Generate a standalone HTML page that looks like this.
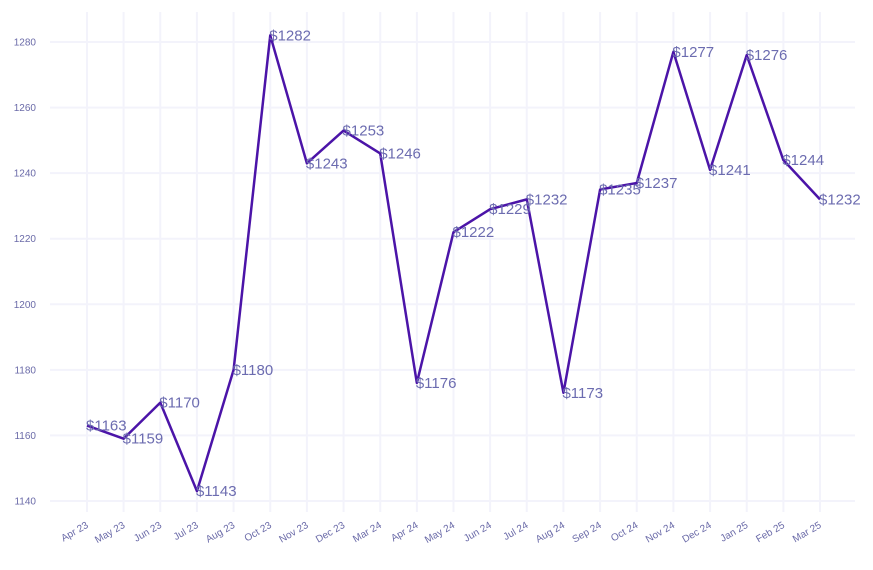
<!DOCTYPE html>
<html><head><meta charset="utf-8"><style>
body{margin:0;background:#fff;font-family:"Liberation Sans",sans-serif}
</style></head><body>
<svg id="chart" width="873" height="565" xmlns="http://www.w3.org/2000/svg">
<g id="grid"></g><g id="axes"></g><g id="series"></g><g id="labels"></g>
</svg>
<script>
const categories=["Apr 23","May 23","Jun 23","Jul 23","Aug 23","Oct 23","Nov 23","Dec 23","Mar 24","Apr 24","May 24","Jun 24","Jul 24","Aug 24","Sep 24","Oct 24","Nov 24","Dec 24","Jan 25","Feb 25","Mar 25"];
const values=[1163,1159,1170,1143,1180,1282,1243,1253,1246,1176,1222,1229,1232,1173,1235,1237,1277,1241,1276,1244,1232];
const yTicks=[1140,1160,1180,1200,1220,1240,1260,1280];
const NS="http://www.w3.org/2000/svg";
const x=i=>87+i*(820-87)/(categories.length-1);
const y=v=>501-(v-1140)*(501-42)/140;
function mk(tag,attrs,parent){const e=document.createElementNS(NS,tag);for(const k in attrs)e.setAttribute(k,attrs[k]);parent.appendChild(e);return e;}
const grid=document.getElementById('grid'),axes=document.getElementById('axes'),series=document.getElementById('series'),labels=document.getElementById('labels');
yTicks.forEach(t=>{
 const l=mk('line',{x1:50,x2:855,y1:y(t),y2:y(t),stroke:'#f3f3fb','stroke-width':2},grid);
 
 
 const tx=mk('text',{x:36,y:y(t)+3.5,'text-anchor':'end','font-size':10,fill:'#6a6aa8'},axes);
 tx.textContent=t;
 
 
});
categories.forEach((c,i)=>{
 const l=mk('line',{x1:x(i),x2:x(i),y1:12,y2:512,stroke:'#f3f3fb','stroke-width':2},grid);
 
 
 const tx=mk('text',{x:x(i)+2,y:527,'text-anchor':'end','font-size':10,fill:'#6a6aa8',transform:`rotate(-30 ${x(i)+2} 527)`},axes);
 tx.textContent=c;
 
 
});
const p=mk('polyline',{points:values.map((v,i)=>x(i)+','+y(v)).join(' '),fill:'none',stroke:'#4b14a8','stroke-width':2.5,'stroke-linejoin':'round'},series);


values.forEach((v,i)=>{
 const t=mk('text',{x:x(i)-1,y:y(v)+5,'font-size':15,fill:'#6c6cb0'},labels);
 t.textContent='$'+v;
 
 
});
</script>
</body></html>
